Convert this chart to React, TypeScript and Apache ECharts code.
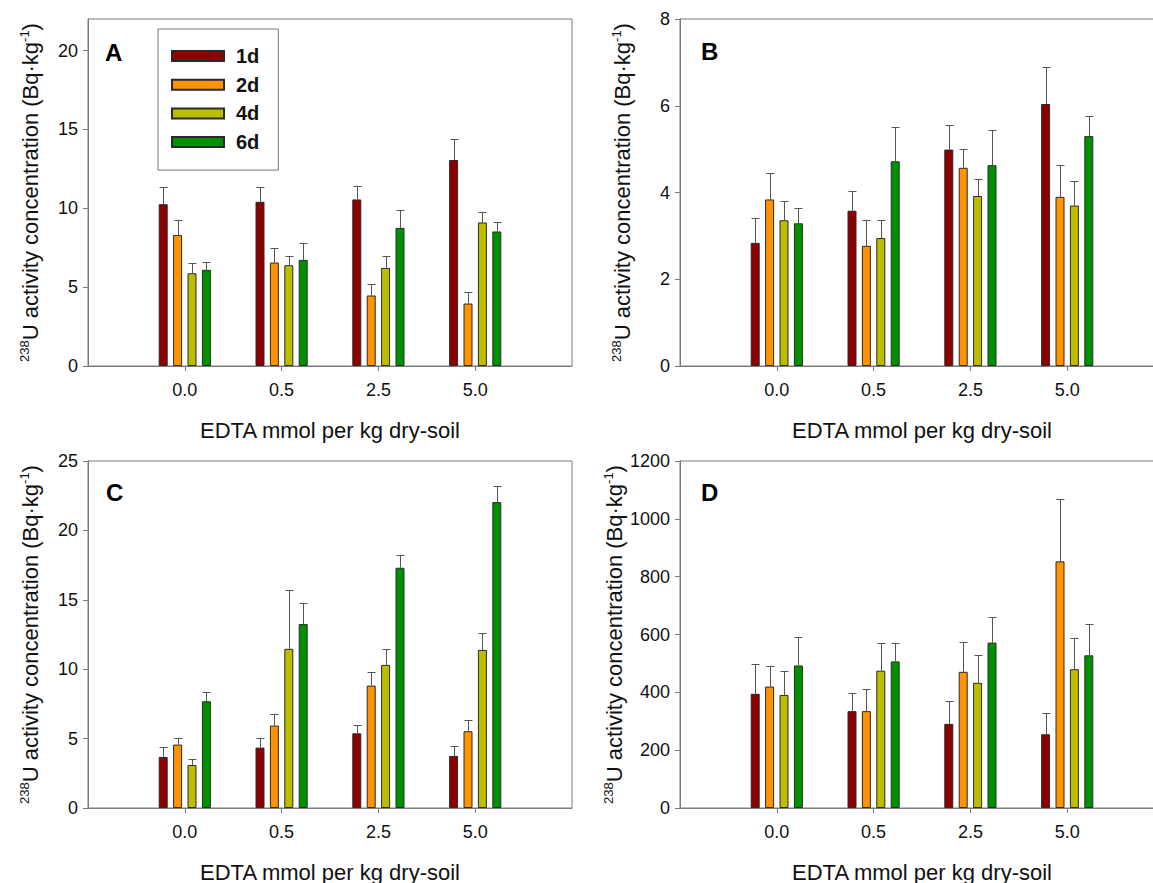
import React, { useEffect, useRef } from "react";
import * as echarts from "echarts";

const categories = ["", "0.0", "0.5", "2.5", "5.0", ""];
const seriesNames = ["1d", "2d", "4d", "6d"];
const colors = ["#8C0000", "#FF9400", "#BDBD00", "#009100"];
const panelLabels = ["A", "B", "C", "D"];

// Panel A
const aMeans = [
  [10.26, 10.41, 10.56, 13.06],
  [8.3, 6.56, 4.47, 3.96],
  [5.88, 6.39, 6.22, 9.1],
  [6.1, 6.73, 8.76, 8.53],
];
const aErrs = [
  [1.08, 0.93, 0.87, 1.33],
  [0.95, 0.93, 0.72, 0.7],
  [0.64, 0.57, 0.74, 0.66],
  [0.5, 1.04, 1.12, 0.61],
];
// Panel B
const bMeans = [
  [2.84, 3.58, 4.99, 6.04],
  [3.84, 2.77, 4.57, 3.9],
  [3.36, 2.95, 3.92, 3.7],
  [3.29, 4.72, 4.63, 5.3],
];
const bErrs = [
  [0.57, 0.46, 0.57, 0.85],
  [0.61, 0.59, 0.43, 0.73],
  [0.44, 0.41, 0.38, 0.56],
  [0.35, 0.8, 0.8, 0.47],
];
// Panel C
const cMeans = [
  [3.68, 4.35, 5.38, 3.75],
  [4.57, 5.94, 8.82, 5.53],
  [3.1, 11.47, 10.31, 11.39],
  [7.69, 13.25, 17.31, 22.04],
];
const cErrs = [
  [0.7, 0.67, 0.63, 0.7],
  [0.45, 0.86, 1.01, 0.82],
  [0.46, 4.25, 1.13, 1.25],
  [0.7, 1.51, 0.94, 1.16],
];
// Panel D
const dMeans = [
  [395, 335, 291, 255],
  [420, 335, 471, 853],
  [391, 475, 433, 480],
  [493, 507, 572, 528],
];
const dErrs = [
  [104, 62, 80, 73],
  [70, 76, 102, 216],
  [84, 95, 96, 108],
  [97, 63, 90, 108],
];

const yMax = [22, 8, 25, 1200];
const yTicks = [
  [0, 5, 10, 15, 20],
  [0, 2, 4, 6, 8],
  [0, 5, 10, 15, 20, 25],
  [0, 200, 400, 600, 800, 1000, 1200],
];

const FONT = "'Liberation Sans', Arial, Helvetica, sans-serif";
const AXIS_COLOR = "#7a7a7a";
const BAR_W = 9;
const BAR_GAP_PX = 5.4;

export default function App() {
  const ref = useRef<HTMLDivElement>(null);

  useEffect(() => {
    if (!ref.current) return;
    const chart = echarts.init(ref.current, undefined, { renderer: "svg" });

    const allMeans = [aMeans, bMeans, cMeans, dMeans];
    const allErrs = [aErrs, bErrs, cErrs, dErrs];

    const grids = [
      { left: 88, top: 19, width: 484, height: 347 },
      { left: 680, top: 19, width: 484, height: 347 },
      { left: 88, top: 461, width: 484, height: 347 },
      { left: 680, top: 461, width: 484, height: 347 },
    ].map((g) => ({
      ...g,
      show: true,
      borderColor: AXIS_COLOR,
      borderWidth: 1,
      backgroundColor: "transparent",
      containLabel: false,
      outerBoundsMode: "none",
    }));

    const xAxes = grids.map((_, i) => ({
      type: "category",
      gridIndex: i,
      data: categories,
      boundaryGap: false,
      name: "EDTA mmol per kg dry-soil",
      nameLocation: "middle",
      nameGap: 53,
      nameTextStyle: { fontSize: 22, color: "#111", fontFamily: FONT },
      axisLine: { show: true, lineStyle: { color: AXIS_COLOR, width: 1 } },
      axisTick: {
        show: true,
        length: 5,
        inside: false,
        interval: (index: number) => index >= 1 && index <= 4,
        lineStyle: { color: AXIS_COLOR },
      },
      axisLabel: {
        interval: 0,
        margin: 15,
        fontSize: 18,
        color: "#111",
        fontFamily: FONT,
      },
      splitLine: { show: false },
    }));

    const yAxes = grids.map((_, i) => ({
      type: "value",
      gridIndex: i,
      min: 0,
      max: yMax[i],
      name: "{sup|238}U activity concentration (Bq·kg{sup|-1})",
      nameLocation: "middle",
      nameRotate: 90,
      nameGap: 46,
      nameTextStyle: {
        fontSize: 22,
        color: "#111",
        fontFamily: FONT,
        lineHeight: 24,
        rich: {
          sup: {
            fontSize: 13,
            lineHeight: 13,
            verticalAlign: "top",
            color: "#111",
            fontFamily: FONT,
          },
        },
      },
      axisLine: { show: true, lineStyle: { color: AXIS_COLOR, width: 1 } },
      axisTick: {
        show: true,
        length: 5,
        inside: false,
        customValues: yTicks[i],
        lineStyle: { color: AXIS_COLOR },
      },
      axisLabel: {
        customValues: yTicks[i],
        formatter: (v: number) => String(v),
        margin: 10,
        fontSize: 18,
        color: "#111",
        fontFamily: FONT,
      },
      splitLine: { show: false },
    }));

    const series: any[] = [];
    for (let p = 0; p < 4; p++) {
      for (let s = 0; s < 4; s++) {
        const means = allMeans[p][s];
        const errs = allErrs[p][s];
        series.push({
          type: "bar",
          name: seriesNames[s],
          xAxisIndex: p,
          yAxisIndex: p,
          barWidth: BAR_W,
          barGap: (BAR_GAP_PX / BAR_W) * 100 + "%",
          itemStyle: { color: colors[s], borderColor: "#2a2a2a", borderWidth: 1 },
          data: means.map((v, i) => [i + 1, v]),
          z: 2,
        });
        const offset = (s - 1.5) * (BAR_W + BAR_GAP_PX);
        series.push({
          type: "custom",
          xAxisIndex: p,
          yAxisIndex: p,
          z: 3,
          encode: { x: 0, y: [1, 2] },
          data: means.map((v, i) => [i + 1, v, v + errs[i]]),
          renderItem: (params: any, api: any) => {
            const x = api.value(0);
            const m = api.value(1);
            const t = api.value(2);
            const p0 = api.coord([x, m]);
            const p1 = api.coord([x, t]);
            const cx = Math.round(p0[0] + offset) + 0.5;
            const ty = Math.round(p1[1]) + 0.5;
            return {
              type: "group",
              children: [
                {
                  type: "line",
                  shape: { x1: cx, y1: p0[1], x2: cx, y2: ty },
                  style: { stroke: "#555", lineWidth: 1 },
                },
                {
                  type: "line",
                  shape: { x1: cx - 4, y1: ty, x2: cx + 4, y2: ty },
                  style: { stroke: "#555", lineWidth: 1 },
                },
              ],
            };
          },
        });
      }
    }

    const labelPos = [
      [105, 52],
      [701, 51],
      [106, 492],
      [701, 492],
    ];

    const option: any = {
      animation: false,
      backgroundColor: "#ffffff",
      textStyle: { fontFamily: FONT },
      grid: grids,
      xAxis: xAxes,
      yAxis: yAxes,
      legend: {
        data: seriesNames,
        orient: "vertical",
        left: 158,
        top: 29,
        padding: [17, 19, 18, 13],
        borderColor: AXIS_COLOR,
        borderWidth: 1,
        backgroundColor: "#fff",
        itemWidth: 52,
        itemHeight: 10,
        itemGap: 8.7,
        icon: "rect",
        selectedMode: false,
        textStyle: {
          fontSize: 20,
          fontWeight: "bold",
          color: "#111",
          fontFamily: FONT,
          lineHeight: 20,
          padding: [0, 0, 0, 7],
        },
      },
      graphic: panelLabels.map((t, i) => ({
        type: "text",
        x: labelPos[i][0],
        y: labelPos[i][1],
        z: 10,
        style: {
          text: t,
          fontSize: 24,
          fontWeight: "bold",
          fontFamily: FONT,
          fill: "#000",
          verticalAlign: "middle",
          align: "left",
        },
      })),
      series,
    };

    chart.setOption(option);
    return () => {
      chart.dispose();
    };
  }, []);

  return (
    <div
      ref={ref}
      style={{ position: "absolute", left: 0, top: 0, width: 1153, height: 883 }}
    />
  );
}
